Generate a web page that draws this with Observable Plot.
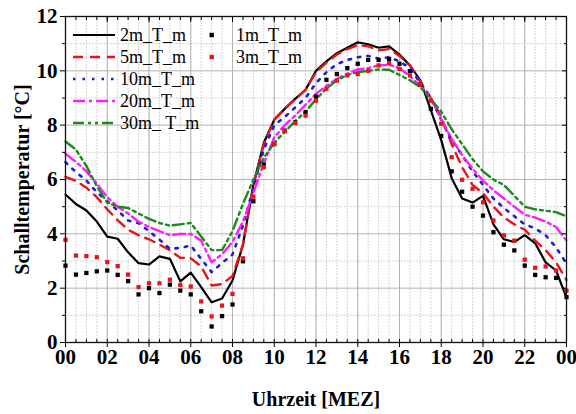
<!DOCTYPE html>
<html>
<head>
<meta charset="utf-8">
<script src="https://cdn.jsdelivr.net/npm/d3@7"></script>
<script src="https://cdn.jsdelivr.net/npm/@observablehq/plot@0.6"></script>
<style>
  html, body { margin: 0; padding: 0; background: white; }
  #wrap { position: relative; width: 576px; height: 414px; }
  #wrap svg.main text { font-weight: bold; font-size: 21px; font-family: "Liberation Serif", "Times New Roman", serif; }
  #wrap svg.main g[aria-label="x-axis label"] text,
  #wrap svg.main g[aria-label="y-axis label"] text { font-size: 20px; }
  #legend { position: absolute; left: 0; top: 0; pointer-events: none; }
  #legend text { font-family: "Liberation Serif", "Times New Roman", serif; font-size: 18px; fill: black; }
</style>
</head>
<body>
<div id="wrap"></div>
<script>
// Half-hourly time steps (hours, 00 to 24)
const hours = [0,0.5,1,1.5,2,2.5,3,3.5,4,4.5,5,5.5,6,6.5,7,7.5,8,8.5,9,9.5,10,10.5,11,11.5,12,12.5,13,13.5,14,14.5,15,15.5,16,16.5,17,17.5,18,18.5,19,19.5,20,20.5,21,21.5,22,22.5,23,23.5,24];

const t2m  = [5.45,5.1,4.86,4.45,3.9,3.82,3.32,2.92,2.87,3.17,3.08,2.25,2.57,2.04,1.48,1.62,2.28,3.6,5.8,7.35,8.2,8.6,8.97,9.3,10.0,10.35,10.65,10.85,11.05,10.98,10.85,10.9,10.6,10.2,9.65,8.55,7.45,6.05,5.3,5.15,5.4,4.35,3.8,3.7,3.95,3.65,2.95,2.65,1.65];
const t5m  = [6.1,5.95,5.7,5.35,4.9,4.5,4.15,3.95,3.8,3.6,3.4,3.12,3.1,2.8,2.1,2.15,2.45,3.6,5.8,7.3,8.2,8.6,8.95,9.3,9.95,10.3,10.6,10.8,10.95,10.9,10.75,10.8,10.55,10.2,9.6,9.0,8.3,7.3,6.45,5.8,5.5,5.0,4.6,4.35,4.15,3.75,3.4,2.95,2.3];
const t10m = [6.64,6.27,5.96,5.53,5.2,4.86,4.49,4.39,4.1,3.79,3.45,3.48,3.57,3.08,2.59,2.93,3.24,4.3,5.7,7.1,8.0,8.3,8.65,9.0,9.55,9.95,10.25,10.4,10.5,10.55,10.45,10.5,10.35,10.1,9.55,9.0,8.2,7.45,6.9,6.3,5.8,5.3,4.95,4.65,4.35,4.2,3.95,3.5,2.9];
const t20m = [6.95,6.65,6.3,5.85,5.35,5.0,4.75,4.45,4.25,4.1,3.95,4.0,4.0,3.75,2.95,3.25,3.7,4.45,5.5,6.6,7.55,8.0,8.35,8.75,9.15,9.45,9.7,9.9,10.05,10.1,10.2,10.22,10.1,9.8,9.45,9.0,8.2,7.5,6.9,6.4,5.96,5.6,5.3,5.0,4.7,4.6,4.45,4.25,3.75];
const t30m = [7.4,7.1,6.5,5.75,5.15,5.0,4.95,4.75,4.55,4.4,4.3,4.35,4.4,3.9,3.4,3.4,4.1,5.1,6.0,6.8,7.35,7.75,8.15,8.5,8.95,9.35,9.65,9.85,9.95,10.0,10.05,10.04,9.85,9.65,9.4,8.95,8.5,7.85,7.3,6.75,6.3,6.0,5.8,5.4,5.0,4.9,4.85,4.8,4.65];
const t1m  = [2.83,2.5,2.56,2.62,2.65,2.49,2.26,1.77,2.0,1.82,2.13,1.91,1.77,1.15,0.59,0.97,1.4,2.99,5.2,6.55,7.3,7.8,8.1,8.48,9.05,9.67,9.88,10.1,10.26,10.4,10.4,10.44,10.26,9.99,9.5,8.6,7.6,6.3,5.55,5.0,4.67,4.06,3.6,3.39,2.83,2.49,2.4,2.38,1.67];
const t3m  = [3.78,3.2,3.18,3.14,2.96,2.81,2.5,2.04,2.18,2.18,2.31,2.12,2.06,1.51,0.96,1.36,1.79,3.1,5.37,6.45,7.31,7.78,8.08,8.35,8.9,9.34,9.64,9.83,9.88,10.0,10.2,10.28,10.07,9.83,9.5,8.9,8.05,6.82,5.99,5.66,5.16,4.49,3.94,3.75,3.05,2.75,2.8,2.65,1.91];

// Tick values
const xMajor = [0,2,4,6,8,10,12,14,16,18,20,22,24];
const xTickLabels = ["00","02","04","06","08","10","12","14","16","18","20","22","00"];
const xMinor = hours;
const yMajor = [0,2,4,6,8,10,12];
const yMinor = [1,3,5,7,9,11];

const lineSeries = [
  {name: "2m_T_m",  values: t2m,  stroke: "#000000", width: 2.2, dash: null},
  {name: "5m_T_m",  values: t5m,  stroke: "#e8141b", width: 2.4, dash: "10,7"},
  {name: "10m_T_m", values: t10m, stroke: "#1f1fd0", width: 2.6, dash: "2.5,7"},
  {name: "20m_T_m", values: t20m, stroke: "#ff1cff", width: 2.4, dash: "12,4,3,4"},
  {name: "30m_ T_m", values: t30m, stroke: "#1b8a1b", width: 2.4, dash: "11,4,3,4,3,4"}
];
const dotSeries = [
  {name: "1m_T_m", values: t1m, fill: "#000000"},
  {name: "3m_T_m", values: t3m, fill: "#e8141b"}
];

const toRows = vals => hours.map((h, i) => ({h, v: vals[i]}));

const marks = [
  Plot.gridX(xMinor, {stroke: "#c8c8c8", strokeOpacity: 1, strokeDasharray: "1.5,1.5"}),
  Plot.gridY(yMinor, {stroke: "#c8c8c8", strokeOpacity: 1, strokeDasharray: "1.5,1.5"}),
  Plot.gridX(xMajor, {stroke: "#b4b4b4", strokeOpacity: 1, strokeWidth: 1}),
  Plot.gridY(yMajor, {stroke: "#b4b4b4", strokeOpacity: 1, strokeWidth: 1})
];
for (const s of lineSeries) {
  marks.push(Plot.line(toRows(s.values), {x: "h", y: "v", stroke: s.stroke, strokeWidth: s.width, strokeDasharray: s.dash || undefined, strokeLinejoin: "round"}));
}
for (const s of dotSeries) {
  marks.push(Plot.dot(toRows(s.values), {x: "h", y: "v", symbol: "square", r: 2.4, fill: s.fill, stroke: "none"}));
}
marks.push(
  Plot.frame({stroke: "#111", strokeWidth: 1.3}),
  Plot.axisX(xMajor, {anchor: "bottom", tickSize: 5, tickPadding: 2, tickFormat: d => xTickLabels[xMajor.indexOf(d)], label: "Uhrzeit [MEZ]", labelAnchor: "center", labelOffset: 63, labelArrow: "none", fontSize: 21, fontWeight: "bold"}),
  Plot.axisX(xMinor, {anchor: "bottom", tickSize: -3, tickFormat: () => "", label: null}),
  Plot.axisX(xMajor, {anchor: "top", tickSize: -5, tickFormat: () => "", label: null}),
  Plot.axisX(xMinor, {anchor: "top", tickSize: -3, tickFormat: () => "", label: null}),
  Plot.axisY(yMajor, {anchor: "left", tickSize: 5, tickPadding: 3, tickFormat: d => String(d), label: "Schalltemperatur [°C]", labelAnchor: "center", labelOffset: 51, labelArrow: "none", fontSize: 21, fontWeight: "bold"}),
  Plot.axisY(yMinor, {anchor: "left", tickSize: 3, tickFormat: () => "", label: null}),
  Plot.axisY(yMajor, {anchor: "right", tickSize: -5, tickFormat: () => "", label: null}),
  Plot.axisY(yMinor, {anchor: "right", tickSize: -3, tickFormat: () => "", label: null})
);

const chart = Plot.plot({
  width: 576,
  height: 414,
  marginLeft: 65,
  marginRight: 10,
  marginTop: 16,
  marginBottom: 72,
  x: {domain: [0, 24]},
  y: {domain: [0, 12]},
  style: {background: "white", fontFamily: "'Liberation Serif', 'Times New Roman', serif", color: "black", overflow: "visible"},
  marks
});
chart.classList.add("main");
const wrap = document.getElementById("wrap");
wrap.appendChild(chart);

// Legend overlay (inside plot, top-left)
const leg = d3.select(wrap).append("svg").attr("id", "legend").attr("width", 576).attr("height", 414);
const rowY = [35, 57, 79, 101, 123];
lineSeries.forEach((s, i) => {
  const g = leg.append("g");
  g.append("line").attr("x1", 73).attr("x2", 115).attr("y1", rowY[i]).attr("y2", rowY[i])
    .attr("stroke", s.stroke).attr("stroke-width", s.width).attr("stroke-dasharray", s.dash);
  g.append("text").attr("x", 120).attr("y", rowY[i] + 6).text(s.name);
});
dotSeries.forEach((s, i) => {
  const g = leg.append("g");
  g.append("rect").attr("x", 209.5).attr("y", rowY[i] - 2.2).attr("width", 4.4).attr("height", 4.4).attr("fill", s.fill);
  g.append("text").attr("x", 236).attr("y", rowY[i] + 6).text(s.name);
});
</script>
</body>
</html>
